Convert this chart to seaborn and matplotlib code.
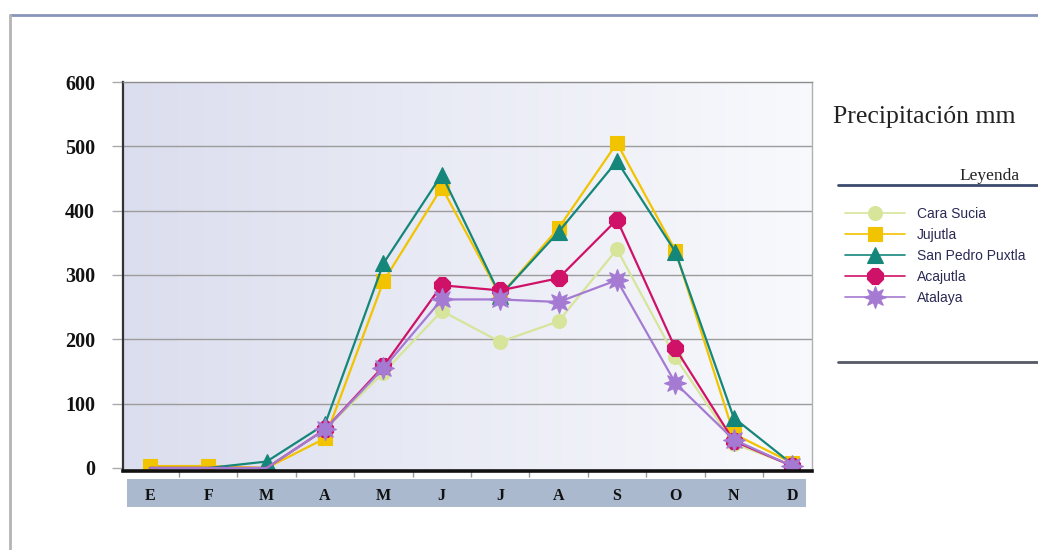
import numpy as np
import pandas as pd
import matplotlib
matplotlib.use("Agg")
import matplotlib.pyplot as plt
import seaborn as sns
from matplotlib.lines import Line2D

# Monthly rainfall (mm) per station
months = ["E", "F", "M", "A", "M", "J", "J", "A", "S", "O", "N", "D"]
stations = ["Cara Sucia", "Jujutla", "San Pedro Puxtla", "Acajutla", "Atalaya"]
cara_sucia = [0, 0, 0, 60, 148, 244, 196, 228, 340, 172, 38, 4]
jujutla = [3, 3, 0, 46, 290, 436, 268, 373, 505, 338, 53, 8]
san_pedro_puxtla = [0, 0, 10, 68, 318, 456, 268, 367, 477, 336, 78, 6]
acajutla = [0, 0, 0, 60, 158, 284, 276, 295, 386, 186, 42, 3]
atalaya = [0, 0, 0, 60, 155, 262, 262, 258, 292, 132, 44, 3]
yticks = [0, 100, 200, 300, 400, 500, 600]

series = [cara_sucia, jujutla, san_pedro_puxtla, acajutla, atalaya]
colors = ["#d6e59a", "#f2c400", "#15867a", "#cf1268", "#a57ad2"]
markers = ["o", "s", "^", "8", (8, 1, 0)]
msizes = [10, 10, 11, 13, 16]
# months where a marker is shown (zero months sit under the axis line)
shown = [list(range(3, 12)),
         [0, 1] + list(range(3, 12)),
         list(range(2, 12)),
         list(range(3, 12)),
         list(range(3, 12))]

df = pd.DataFrame({
    "mes": np.tile(np.arange(len(months)), len(stations)),
    "mm": np.concatenate(series),
    "estacion": np.repeat(stations, len(months)),
})

sns.set_theme(style="white")
plt.rcParams["font.family"] = ["Liberation Serif", "DejaVu Serif"]

W, H = 1038, 550
fig = plt.figure(figsize=(W / 100, H / 100), dpi=100)
fig.patch.set_facecolor("white")

# month band under the axis (drawn first, behind the axes)
band = fig.add_axes([127 / W, (H - 507) / H, 679 / W, 28 / H])
band.set_facecolor("#aab9cd")
band.set_xticks([])
band.set_yticks([])
for s in band.spines.values():
    s.set_visible(False)
band.set_zorder(0)

# plot area
ax = fig.add_axes([123 / W, (H - 471) / H, 689 / W, (471 - 82) / H])
ax.set_zorder(2)
ax.patch.set_alpha(0)
xlim = (-0.46, 11.34)
ylim = (-4.7, 600)

# soft lavender-to-white wash behind the lines
grad = np.linspace(0, 1, 256)[None, :]
c0 = np.array([0.86, 0.87, 0.935])
c1 = np.array([0.975, 0.978, 0.99])
img = c0[None, None, :] * (1 - grad[..., None]) + c1[None, None, :] * grad[..., None]
ax.imshow(img, extent=[xlim[0], xlim[1], ylim[0], ylim[1]], aspect="auto", zorder=0)

for name, col, mk, ms, ev in zip(stations, colors, markers, msizes, shown):
    sub = df[df["estacion"] == name]
    sns.lineplot(data=sub, x="mes", y="mm", ax=ax, color=col, marker=mk,
                 markersize=ms, markeredgecolor=col, markeredgewidth=0.8,
                 markevery=ev, linewidth=1.6, legend=False, zorder=3)

ax.set_xlim(*xlim)
ax.set_ylim(*ylim)
ax.set_xlabel("")
ax.set_ylabel("")

# horizontal grid
for v in yticks[1:-1]:
    ax.axhline(v, color="#9c9c9c", lw=1, zorder=1)

ax.set_yticks(yticks)
ax.set_yticklabels([str(v) for v in yticks], fontweight="bold", fontsize=14.5, color="#111")
ax.tick_params(axis="y", length=8, width=1, color="#aaaaaa", pad=12, left=True)

ax.set_xticks(range(len(months)))
ax.set_xticklabels(months, fontweight="bold", fontsize=11.5, color="#111")
ax.tick_params(axis="x", length=0, pad=12)
ax.set_xticks(np.arange(0.5, len(months) - 1, 1), minor=True)
ax.tick_params(axis="x", which="minor", length=4, width=1, color="#999999", bottom=True, direction="out")

for side, (col, lw) in {"left": ("#333333", 1.6), "bottom": ("#111111", 2.6),
                        "top": ("#8c8c8c", 1.0), "right": ("#b0b0b0", 1.0)}.items():
    ax.spines[side].set_visible(True)
    ax.spines[side].set_color(col)
    ax.spines[side].set_linewidth(lw)
ax.spines["bottom"].set_zorder(5)

# outer frame
fig.add_artist(Line2D([10 / W, 1], [1 - 15 / H] * 2, color="#8795ba", lw=2))
fig.add_artist(Line2D([10 / W] * 2, [0, 1 - 15 / H], color="#b4b4b4", lw=2))

# title and legend block
fig.text(833 / W, 1 - 117 / H, "Precipitación mm", fontsize=18.5, color="#222222",
         va="center", ha="left")
fig.text(1020 / W, 1 - 176 / H, "Leyenda", fontsize=12.5, color="#222222",
         va="center", ha="right")
fig.add_artist(Line2D([838 / W, 1], [1 - 185 / H] * 2, color="#3c4a6e", lw=2))
fig.add_artist(Line2D([838 / W, 1], [1 - 362 / H] * 2, color="#555a66", lw=2))

handles = [Line2D([], [], color=col, marker=mk, markersize=ms, markeredgecolor=col,
                  markeredgewidth=0.8, linewidth=1.2)
           for col, mk, ms in zip(colors, markers, msizes)]
leg = fig.legend(handles, stations, loc="upper left",
                 bbox_to_anchor=(845 / W, 1 - 207 / H), bbox_transform=fig.transFigure,
                 frameon=False, handlelength=4.3, handletextpad=0.9,
                 labelspacing=0.5, borderaxespad=0, borderpad=0,
                 prop={"family": ["Liberation Sans Narrow", "Liberation Sans", "DejaVu Sans"],
                       "size": 10})
for t in leg.get_texts():
    t.set_color("#2a2a55")

fig.savefig("out.png", dpi=100, facecolor="white")
